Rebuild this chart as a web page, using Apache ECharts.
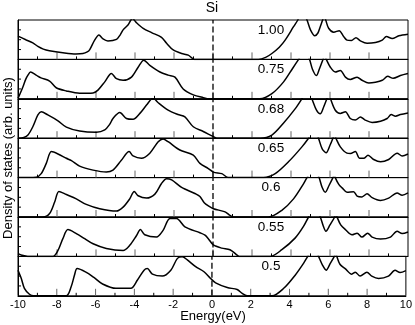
<!DOCTYPE html>
<html>
<head>
<meta charset="utf-8">
<script src="https://cdn.jsdelivr.net/npm/echarts@6/dist/echarts.min.js"></script>
<style>
  html, body { margin: 0; padding: 0; background: #fff; }
</style>
</head>
<body>
<div id="dosChart" style="width: 415px; height: 325px;"></div>
<script>
// panel labels, top to bottom
const panelLabels = ['1.00', '0.75', '0.68', '0.65', '0.6', '0.55', '0.5'];
const xTicks = [-10, -8, -6, -4, -2, 0, 2, 4, 6, 8, 10];
const xMinorTicks = [-9, -7, -5, -3, -1, 1, 3, 5, 7, 9];
const yTicks = [2.5, 5, 7.5];

// DOS curves, [energy (eV), value], one panel = 0..10 (values above 10 run off the top)
const dos100 = [[-10,5.9],[-9.6,5.0],[-9.24,4.2],[-8.98,3.3],[-8.7,2.6],[-8.39,2.2],[-7.7,1.7],[-7.03,1.4],[-6.67,1.5],[-6.45,1.9],[-6.32,2.5],[-6.07,4.9],[-5.85,6.2],[-5.64,5.2],[-5.39,4.7],[-4.95,5.1],[-4.75,6.3],[-4.61,7.5],[-4.35,8.8],[-4.13,10.4],[-3.94,9.4],[-3.58,7.9],[-3.15,6.8],[-2.64,5.6],[-2.38,4.1],[-2.04,2.4],[-1.61,1.5],[-1.27,1.1],[-0.95,0],[2.33,0],[2.7,0.5],[3.02,1.5],[3.4,3.1],[3.7,4.9],[4.13,8.3],[4.35,10],[4.5,11.5],[4.65,11.5],[4.82,10],[5.0,7.5],[5.22,6.0],[5.38,6.7],[5.5,8.3],[5.62,10],[5.7,11],[5.78,10],[5.93,7.9],[6.19,6.9],[6.47,7.3],[6.7,5.8],[6.87,4.9],[7.1,4.8],[7.33,5.5],[7.56,4.7],[7.9,4.1],[8.33,4.3],[8.68,4.9],[8.89,5.8],[9.19,5.3],[9.53,6.0],[10,6.4]];
const dos075 = [[-10,0.1],[-9.9,1.2],[-9.75,3.0],[-9.6,5.0],[-9.49,6.0],[-9.36,6.8],[-9.07,6.0],[-8.82,5.3],[-8.38,4.5],[-8.04,2.8],[-7.52,2.0],[-6.84,1.4],[-6.15,1.5],[-5.9,2.2],[-5.55,4.3],[-5.21,6.4],[-4.95,5.1],[-4.61,4.7],[-4.18,5.5],[-3.84,8.0],[-3.55,9.8],[-3.24,8.5],[-2.72,6.8],[-2.3,6.0],[-1.95,5.5],[-1.53,2.5],[-1.01,1.0],[-0.5,0.3],[-0.2,0],[2.4,0],[3.02,1.3],[3.62,4.3],[4.08,7.7],[4.39,10],[4.6,11.5],[4.8,11.2],[4.95,10],[5.1,7.5],[5.3,5.9],[5.45,7.5],[5.64,10],[5.72,11],[5.81,10],[6.02,8.0],[6.27,6.8],[6.53,7.2],[6.79,5.5],[7.04,4.9],[7.39,5.5],[7.64,4.7],[7.99,4.0],[8.33,4.2],[8.68,4.7],[8.96,5.7],[9.24,5.2],[9.61,5.9],[10,6.4]];
const dos068 = [[-10,0],[-9.7,0.2],[-9.49,0.8],[-9.24,2.9],[-8.98,5.9],[-8.81,6.7],[-8.47,5.9],[-7.95,4.4],[-7.52,2.8],[-6.84,1.8],[-5.98,1.5],[-5.55,2.1],[-5.3,3.5],[-5.13,5.0],[-4.78,6.5],[-4.44,5.0],[-4.1,4.8],[-3.75,6.3],[-3.41,8.4],[-3.07,10.2],[-2.81,9.0],[-2.3,7.1],[-1.8,6.0],[-1.44,5.4],[-1.01,2.9],[-0.5,1.7],[0.02,0.4],[0.2,0],[2.42,0],[3.02,0.8],[3.61,3.8],[4.22,7.5],[4.56,10],[4.75,11.5],[4.95,11.2],[5.07,10],[5.3,7.2],[5.5,6.2],[5.68,8],[5.84,10],[5.92,11],[6.02,10],[6.27,7.1],[6.53,6.3],[6.79,6.7],[7.04,5.0],[7.3,4.6],[7.56,5.4],[7.81,4.6],[8.16,4.0],[8.59,4.3],[8.93,5.0],[9.14,6.0],[9.36,5.6],[9.61,6.0],[10,6.4]];
const dos065 = [[-10,0],[-9.07,0.1],[-8.81,1.0],[-8.55,3.6],[-8.29,6.6],[-7.95,6.0],[-7.52,4.9],[-7.26,4.3],[-6.84,2.9],[-6.15,1.9],[-5.47,1.4],[-5.13,1.9],[-4.7,4.4],[-4.3,6.6],[-4.1,5.5],[-3.67,4.9],[-3.24,6.2],[-2.81,9.1],[-2.56,9.8],[-2.3,9.1],[-1.7,7.0],[-1.01,5.7],[-0.67,3.6],[-0.24,2.3],[0.02,1.4],[0.45,1.0],[0.79,0],[2.59,0],[3.19,1.0],[3.87,4.0],[4.56,7.8],[4.9,10],[5.1,11.5],[5.3,11.3],[5.41,10],[5.6,7.3],[5.8,6.3],[6.0,8.2],[6.15,10],[6.22,11],[6.3,10],[6.53,7.8],[6.87,6.2],[7.05,6.1],[7.3,6.6],[7.52,4.9],[7.73,4.9],[7.95,5.7],[8.24,4.6],[8.59,4.0],[9.01,4.6],[9.44,6.2],[9.7,5.5],[10,6.0]];
const dos060 = [[-10,0],[-8.73,0],[-8.38,0.9],[-8.12,3.8],[-7.9,6.5],[-7.52,5.7],[-7.01,4.6],[-6.5,3.2],[-5.81,2.1],[-4.95,1.5],[-4.61,2.5],[-4.27,4.6],[-4.04,6.5],[-3.84,5.4],[-3.41,4.8],[-2.98,5.8],[-2.64,8.5],[-2.38,9.7],[-2.12,9.4],[-1.61,7.5],[-0.9,5.9],[-0.67,5.2],[-0.45,3.6],[-0.2,2.7],[0.02,2.1],[0.62,1.3],[0.87,0.4],[1.05,0],[2.84,0],[3.53,1.7],[4.13,4.6],[4.64,8.4],[4.82,10],[5.05,11.5],[5.3,11.3],[5.44,10],[5.6,7.5],[5.76,6.3],[5.95,8],[6.15,10],[6.22,11],[6.27,10],[6.45,8.3],[6.62,7.4],[6.87,6.3],[7.21,6.4],[7.39,5.3],[7.64,5.1],[7.9,5.9],[8.16,4.9],[8.59,4.2],[9.01,4.8],[9.44,6.1],[9.7,5.5],[10,6.1]];
const dos055 = [[-10,0.7],[-9.8,0.3],[-9.5,0],[-8.21,0],[-7.95,1.5],[-7.7,4.5],[-7.44,6.8],[-7.01,5.8],[-6.58,4.5],[-6.15,3.2],[-5.47,2.0],[-4.61,1.5],[-4.27,2.8],[-3.92,5.3],[-3.72,6.8],[-3.5,5.5],[-2.9,4.9],[-2.56,6.6],[-2.21,9.6],[-1.87,9.6],[-1.44,7.5],[-0.67,6.0],[-0.41,5.4],[-0.24,4.5],[0.02,2.9],[0.45,2.1],[0.87,1.7],[1.22,0.4],[1.35,0],[2.93,0],[3.53,1.7],[4.22,4.7],[4.64,7.6],[4.9,10],[5.1,11.5],[5.35,11.3],[5.5,10],[5.65,7.8],[5.79,6.4],[6.0,8],[6.24,10],[6.3,11],[6.36,10],[6.55,8],[6.79,6.8],[7.13,5.5],[7.39,5.9],[7.64,4.9],[7.93,5.9],[8.16,4.9],[8.59,4.4],[9.1,4.9],[9.44,6.4],[9.7,5.8],[10,6.2]];
const dos050 = [[-10,6.5],[-9.83,4.4],[-9.67,1.9],[-9.41,0.4],[-9.2,0],[-7.52,0],[-7.26,2.3],[-7.09,5.2],[-6.95,6.9],[-6.5,6.0],[-6.07,4.6],[-5.64,3.0],[-4.95,1.9],[-4.18,1.9],[-3.84,4.0],[-3.5,6.5],[-3.33,6.9],[-3.07,5.5],[-2.56,5.0],[-2.12,6.5],[-1.78,9.5],[-1.53,9.9],[-1.27,9.1],[-0.84,7.4],[-0.41,6.1],[-0.07,4.4],[0.19,3.3],[0.79,2.1],[1.3,1.6],[1.56,0.6],[1.81,0],[3.1,0],[3.7,1.9],[4.3,5.3],[4.73,8.3],[4.94,10],[5.15,11.5],[5.38,11.3],[5.5,10],[5.7,7.8],[5.89,6.5],[6.1,8.2],[6.31,10],[6.38,11],[6.44,10],[6.6,8],[6.87,6.9],[7.21,5.5],[7.39,6.0],[7.64,5.0],[7.99,6.0],[8.24,5.0],[8.59,4.4],[9.1,5.0],[9.44,6.5],[9.7,5.9],[10,6.4]];

const panelData = [dos100, dos075, dos068, dos065, dos060, dos055, dos050];
const fermiLine = [[0, 0], [0, 10]];

// layout
const plotLeft = 18;
const plotWidth = 390;
const plotTop = 20;
const panelH = 39.4;
const fontFamily = '"Liberation Sans", Arial, sans-serif';

// inward tick marks drawn through the axis scales
function tickRenderer(len, color, horizontal) {
  return function (params, api) {
    let p = horizontal ? api.coord([-10, api.value(0)]) : api.coord([api.value(0), 0]);
    return {
      type: 'line',
      shape: horizontal
        ? { x1: p[0], y1: p[1], x2: p[0] + len, y2: p[1] }
        : { x1: p[0], y1: p[1], x2: p[0], y2: p[1] - len },
      style: { stroke: color, lineWidth: 1 },
    };
  };
}

function initDosChart() {
  let myChart = echarts.init(document.getElementById('dosChart'));
  let grid = [], xAxis = [], yAxis = [], series = [], graphic = [];

  panelData.forEach((data, i) => {
    let last = i === panelData.length - 1;
    let top = plotTop + i * panelH;
    grid.push({
      left: plotLeft,
      top: top,
      width: plotWidth,
      height: panelH,
      show: true,
      borderColor: '#000',
      borderWidth: 1,
    });
    xAxis.push({
      type: 'value',
      gridIndex: i,
      min: -10,
      max: 10,
      interval: 2,
      axisLine: { show: true, onZero: false, lineStyle: { color: '#000', width: 1 } },
      axisTick: { show: false },
      axisLabel: {
        show: last,
        color: '#000',
        fontSize: 11,
        fontFamily: fontFamily,
        margin: 4,
      },
      splitLine: { show: false },
    });
    yAxis.push({
      type: 'value',
      gridIndex: i,
      min: 0,
      max: 10,
      interval: 2.5,
      axisLine: { show: true, onZero: false, lineStyle: { color: '#000', width: 1 } },
      axisTick: { show: false },
      axisLabel: { show: false },
      splitLine: { show: false },
    });
    series.push({
      type: 'line',
      xAxisIndex: i,
      yAxisIndex: i,
      data: data,
      smooth: 0.3,
      showSymbol: false,
      clip: true,
      silent: true,
      lineStyle: { color: '#000', width: 1.5 },
      z: 3,
    });
    // dashed Fermi level
    series.push({
      type: 'line',
      xAxisIndex: i,
      yAxisIndex: i,
      data: fermiLine,
      showSymbol: false,
      silent: true,
      lineStyle: { color: '#000', width: 1.3, type: [6, 3] },
      z: 3,
    });
    // ticks
    series.push({
      type: 'custom',
      xAxisIndex: i,
      yAxisIndex: i,
      silent: true,
      data: xTicks.slice(1, -1).map((v) => [v]),
      renderItem: tickRenderer(7, '#666', false),
      z: 2,
    });
    series.push({
      type: 'custom',
      xAxisIndex: i,
      yAxisIndex: i,
      silent: true,
      data: xMinorTicks.map((v) => [v]),
      renderItem: tickRenderer(3, '#000', false),
      z: 2,
    });
    series.push({
      type: 'custom',
      xAxisIndex: i,
      yAxisIndex: i,
      silent: true,
      data: yTicks.map((v) => [v]),
      renderItem: tickRenderer(3, '#000', true),
      z: 2,
    });
    graphic.push({
      type: 'text',
      x: 271,
      y: top + 10,
      style: {
        text: panelLabels[i],
        fill: '#000',
        font: '13.5px ' + fontFamily,
        align: 'center',
        verticalAlign: 'middle',
      },
    });
  });

  // title and axis names
  graphic.push({
    type: 'text',
    x: 212,
    y: 8,
    style: { text: 'Si', fill: '#000', font: '14px ' + fontFamily, align: 'center', verticalAlign: 'middle' },
  });
  graphic.push({
    type: 'text',
    x: 213,
    y: 316,
    style: { text: 'Energy(eV)', fill: '#000', font: '13px ' + fontFamily, align: 'center', verticalAlign: 'middle' },
  });
  graphic.push({
    type: 'text',
    x: 8,
    y: 158,
    rotation: Math.PI / 2,
    style: { text: 'Density of states (arb. units)', fill: '#000', font: '13px ' + fontFamily, align: 'center', verticalAlign: 'middle' },
  });

  let option = {
    animation: false,
    backgroundColor: '#fff',
    grid: grid,
    xAxis: xAxis,
    yAxis: yAxis,
    series: series,
    graphic: graphic,
  };
  myChart.setOption(option);
}

initDosChart();
</script>
</body>
</html>
